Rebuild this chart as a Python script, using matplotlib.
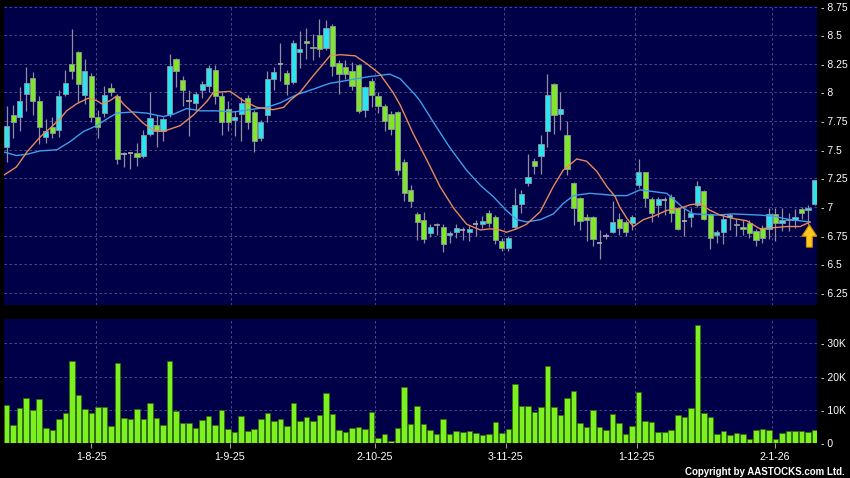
import matplotlib
matplotlib.use("Agg")
import matplotlib.pyplot as plt
from matplotlib.patches import Polygon
import numpy as np

plt.rcParams['font.family'] = ['Liberation Sans', 'DejaVu Sans']

# ---------------- data ----------------
opens = [7.52, 7.80, 7.79, 7.99, 8.13, 7.93, 7.61, 7.70, 7.67, 7.99,
         8.25, 8.35, 7.98, 8.14, 7.79, 7.82, 8.04, 7.97, 7.46, 7.47,
         7.47, 7.45, 7.64, 7.72, 7.66, 7.81, 8.29, 8.11, 7.93, 7.91,
         8.02, 8.06, 8.20, 7.97, 7.86, 7.76, 7.81, 7.95, 7.83, 7.60,
         7.80, 8.12, 8.25, 8.17, 8.09, 8.35, 8.45, 8.40, 8.50, 8.39,
         8.58, 8.26, 8.22, 8.19, 8.24, 7.85, 8.10, 7.97, 7.88, 7.81,
         7.83, 7.39, 7.15, 6.94, 6.89, 6.77, 6.85, 6.83, 6.76, 6.78,
         6.80, 6.78, 6.85, 6.85, 6.95, 6.91, 6.70, 6.64, 6.83, 7.03,
         7.21, 7.40, 7.45, 7.66, 8.07, 7.81, 7.63, 7.21, 7.08, 6.91,
         6.91, 6.69, 6.75, 6.78, 6.90, 6.87, 6.86, 7.19, 7.31, 7.07,
         7.02, 7.06, 7.09, 6.99, 6.88, 6.91, 7.02, 7.14, 6.94, 6.76,
         6.78, 6.91, 6.85, 6.83, 6.86, 6.79, 6.82, 6.81, 6.94, 6.86,
         6.89, 6.89, 6.98, 6.97, 7.03]
highs = [7.88, 7.89, 8.05, 8.22, 8.18, 7.97, 7.77, 7.79, 8.02, 8.20,
         8.55, 8.36, 8.29, 8.17, 7.85, 8.06, 8.08, 7.99, 7.48, 7.48,
         7.56, 7.67, 8.00, 7.80, 7.79, 8.34, 8.30, 8.14, 8.02, 8.00,
         8.10, 8.24, 8.24, 8.00, 7.93, 7.84, 7.96, 7.98, 7.85, 7.76,
         8.19, 8.22, 8.43, 8.20, 8.46, 8.54, 8.56, 8.51, 8.64, 8.63,
         8.60, 8.28, 8.28, 8.27, 8.25, 8.06, 8.13, 8.00, 7.90, 7.84,
         7.84, 7.42, 7.19, 6.96, 6.96, 6.85, 6.86, 6.85, 6.79, 6.85,
         6.83, 6.84, 6.89, 6.92, 6.97, 6.93, 6.73, 6.75, 7.17, 7.15,
         7.46, 7.43, 7.63, 8.16, 8.08, 8.00, 7.75, 7.22, 7.09, 6.94,
         6.92, 6.80, 6.77, 7.05, 6.95, 6.89, 6.93, 7.42, 7.31, 7.09,
         7.09, 7.09, 7.11, 7.00, 7.00, 6.99, 7.23, 7.15, 6.95, 6.80,
         6.94, 6.95, 6.90, 6.89, 6.89, 6.81, 6.84, 6.99, 6.99, 6.99,
         6.95, 6.98, 7.00, 7.02, 7.24]
lows = [7.39, 7.60, 7.66, 7.84, 7.80, 7.55, 7.56, 7.60, 7.61, 7.97,
        8.12, 7.92, 7.90, 7.74, 7.60, 7.79, 7.97, 7.38, 7.35, 7.33,
        7.36, 7.43, 7.62, 7.52, 7.58, 7.79, 8.05, 7.88, 7.62, 7.85,
        7.95, 8.00, 7.90, 7.63, 7.66, 7.62, 7.58, 7.68, 7.48, 7.58,
        7.74, 8.02, 8.10, 7.98, 8.07, 8.21, 8.29, 8.28, 8.31, 8.37,
        8.14, 7.99, 8.12, 8.02, 7.82, 7.79, 7.87, 7.82, 7.66, 7.63,
        7.28, 7.05, 7.00, 6.71, 6.69, 6.74, 6.76, 6.61, 6.69, 6.73,
        6.71, 6.70, 6.75, 6.82, 6.83, 6.68, 6.62, 6.62, 6.81, 6.95,
        7.18, 7.29, 7.29, 7.52, 7.64, 7.67, 7.28, 6.84, 6.80, 6.70,
        6.66, 6.55, 6.72, 6.77, 6.76, 6.75, 6.80, 7.17, 7.00, 6.87,
        6.91, 6.93, 6.87, 6.80, 6.75, 6.83, 7.00, 6.89, 6.63, 6.69,
        6.68, 6.80, 6.75, 6.76, 6.73, 6.66, 6.69, 6.72, 6.70, 6.79,
        6.79, 6.82, 6.90, 6.84, 7.02]
closes = [7.71, 7.74, 7.93, 8.08, 7.93, 7.70, 7.66, 7.65, 7.97, 8.08,
          8.19, 8.07, 8.19, 7.79, 7.70, 7.98, 8.00, 7.42, 7.46, 7.47,
          7.44, 7.63, 7.78, 7.66, 7.77, 8.23, 8.19, 8.02, 7.93, 7.99,
          8.07, 8.21, 7.97, 7.74, 7.74, 7.79, 7.91, 7.74, 7.58, 7.74,
          8.12, 8.18, 8.25, 8.07, 8.43, 8.38, 8.43, 8.39, 8.38, 8.56,
          8.23, 8.16, 8.16, 8.06, 7.84, 8.05, 7.98, 7.88, 7.75, 7.68,
          7.32, 7.12, 7.05, 6.87, 6.72, 6.83, 6.84, 6.68, 6.77, 6.82,
          6.80, 6.81, 6.85, 6.88, 6.86, 6.71, 6.64, 6.73, 7.02, 7.11,
          7.26, 7.36, 7.55, 7.98, 7.80, 7.86, 7.33, 6.99, 6.88, 6.89,
          6.72, 6.69, 6.75, 6.87, 6.82, 6.78, 6.91, 7.31, 7.08, 6.95,
          7.07, 7.06, 6.95, 6.81, 6.88, 6.95, 7.18, 6.90, 6.73, 6.78,
          6.90, 6.93, 6.84, 6.81, 6.77, 6.71, 6.73, 6.94, 6.86, 6.89,
          6.90, 6.91, 6.95, 6.99, 7.24]
volumes_k = [11.5, 5.5, 10.7, 13.5, 10.0, 13.2, 4.7, 4.0, 7.3, 9.0,
             24.8, 14.5, 10.3, 9.2, 11.0, 11.0, 5.2, 24.2, 7.5, 7.2,
             10.2, 7.2, 12.2, 7.5, 5.4, 24.8, 9.8, 6.2, 6.2, 4.5,
             7.0, 8.2, 5.4, 10.0, 4.2, 3.5, 8.3, 3.8, 4.4, 7.4,
             9.0, 6.6, 7.4, 5.2, 12.2, 6.8, 7.8, 6.8, 8.4, 15.0,
             8.8, 4.0, 3.5, 4.7, 5.0, 4.3, 9.4, 1.5, 2.7, 0.8,
             4.5, 16.8, 5.8, 11.2, 5.8, 4.0, 2.7, 7.4, 2.7, 3.8,
             3.5, 3.8, 3.0, 2.5, 2.8, 6.3, 3.2, 4.2, 17.8, 11.2,
             11.2, 9.5, 10.8, 23.3, 11.0, 8.5, 13.5, 15.8, 6.2, 5.0,
             10.0, 4.8, 4.0, 8.8, 6.0, 2.7, 5.2, 15.5, 6.7, 6.4,
             3.4, 3.5, 4.0, 8.5, 7.8, 10.7, 35.5, 9.0, 7.8, 2.8,
             3.7, 2.4, 3.2, 2.7, 1.4, 4.0, 4.3, 4.0, 1.2, 3.2,
             3.8, 3.6, 3.6, 3.5, 4.0]

ma_short_pos = [-0.4, 1.5, 3.1, 5.1, 6.7, 8.2, 9.2, 10.7, 12.5, 13.8,
                14.6, 15.9, 16.9, 17.9, 19.4, 21.0, 22.5, 24.0, 26.6, 28.6,
                30.7, 31.7, 34.3, 36.3, 38.4, 40.9, 42.5, 43.5, 45.0, 47.1,
                48.6, 49.6, 51.2, 53.5, 55.3, 57.3, 59.3, 60.4, 62.4, 64.5,
                66.5, 68.6, 70.6, 72.7, 74.2, 75.7, 76.7, 78.3, 79.8, 81.9,
                83.9, 85.4, 87.5, 89.0, 90.6, 92.1, 93.4, 94.1, 95.2, 96.2,
                97.7, 99.3, 101.3, 103.4, 104.9, 106.4, 108.0, 109.5, 111.5, 113.6,
                115.6, 117.7, 119.7, 121.8, 123.3]
ma_short_val = [7.28, 7.35, 7.48, 7.61, 7.69, 7.77, 7.84, 7.90, 7.95, 7.93,
                7.90, 7.93, 7.97, 7.90, 7.82, 7.73, 7.67, 7.66, 7.71, 7.80,
                7.92, 8.00, 8.01, 7.93, 7.87, 7.85, 7.87, 7.93, 8.00, 8.15,
                8.25, 8.32, 8.33, 8.32, 8.25, 8.16, 8.00, 7.89, 7.64, 7.41,
                7.18, 6.99, 6.85, 6.80, 6.81, 6.80, 6.78, 6.81, 6.85, 6.96,
                7.18, 7.32, 7.42, 7.40, 7.31, 7.18, 7.09, 7.00, 6.90, 6.83,
                6.89, 6.92, 6.97, 6.99, 7.02, 7.03, 6.97, 6.93, 6.90, 6.88,
                6.81, 6.82, 6.83, 6.83, 6.87]
ma_long_pos = [-0.4, 1.5, 3.1, 5.1, 7.7, 9.7, 11.8, 13.8, 15.4, 16.9,
               19.4, 21.5, 24.0, 25.6, 27.6, 29.7, 32.0, 34.8, 37.3, 39.9,
               42.0, 44.5, 47.1, 49.6, 51.7, 53.7, 55.8, 58.8, 60.4, 62.7,
               63.4, 65.5, 68.0, 70.6, 72.7, 74.7, 76.7, 78.3, 79.8, 81.9,
               83.9, 85.4, 87.0, 89.5, 91.6, 93.4, 95.2, 97.2, 101.3, 103.9,
               105.4, 109.0, 111.5, 115.6, 117.7, 120.2, 123.3]
ma_long_val = [7.48, 7.45, 7.46, 7.49, 7.50, 7.57, 7.66, 7.71, 7.77, 7.82,
               7.83, 7.82, 7.79, 7.81, 7.86, 7.84, 7.84, 7.83, 7.85, 7.87,
               7.91, 7.98, 8.03, 8.08, 8.10, 8.12, 8.14, 8.16, 8.12, 7.98,
               7.93, 7.74, 7.52, 7.32, 7.19, 7.09, 6.97, 6.89, 6.87, 6.89,
               6.94, 7.03, 7.10, 7.12, 7.11, 7.10, 7.10, 7.15, 7.12, 6.99,
               6.94, 6.93, 6.94, 6.93, 6.92, 6.89, 6.87]

date_labels = ['1-8-25', '1-9-25', '2-10-25', '3-11-25', '1-12-25', '2-1-26']
date_tick_pos = [13.0, 34.2, 56.5, 76.6, 96.7, 117.9]
date_grid_pos = [13.7, 34.5, 56.5, 76.4, 96.4, 117.4]
price_ticks = [6.25, 6.5, 6.75, 7.0, 7.25, 7.5, 7.75, 8.0, 8.25, 8.5, 8.75]
vol_ticks_k = [0, 10, 20, 30]

# ---------------- drawing ----------------
W, H = 850, 478
BG = '#000048'
UP = '#2CE4F0'
DN = '#80E62A'
EDGE = '#8c96a0'
GRID = dict(color='#555590', lw=0.6, ls=(0, (3, 3)))

fig = plt.figure(figsize=(W / 100, H / 100), dpi=100, facecolor='black')
ax = fig.add_axes([4 / W, 1 - 305 / H, 813 / W, 299 / H], facecolor=BG)
axv = fig.add_axes([4 / W, 1 - 443.3 / H, 813 / W, 124.3 / H], facecolor=BG)

o = np.array(opens); h = np.array(highs); l = np.array(lows); c = np.array(closes)
n = len(c)
idx = np.arange(n)
up = c > o
dn = c < o
eq = c == o
bw = 0.8

ax.vlines(idx, l, h, color='#8f8f9f', lw=0.9, zorder=3)
ax.bar(idx[up], (c - o)[up], bottom=o[up], width=bw, color=UP,
       edgecolor=EDGE, linewidth=0.6, zorder=4)
ax.bar(idx[dn], (o - c)[dn], bottom=c[dn], width=bw, color=DN,
       edgecolor=EDGE, linewidth=0.6, zorder=4)
ax.hlines(c[eq], idx[eq] - bw / 2, idx[eq] + bw / 2, color='#a8a8a8', lw=1.3, zorder=4)

ax.plot(ma_long_pos, ma_long_val, color='#3E9EEA', lw=1.0, zorder=5)
ax.plot(ma_short_pos, ma_short_val, color='#E8895A', lw=1.0, zorder=6)

# yellow arrow under the latest bar, pointing at the short average
xa = idx[-1] - 0.8
ytip = ma_short_val[-1] - 0.025
hw, sw, hl, tl = 1.15, 0.45, 0.10, 0.195
arrow = Polygon([(xa, ytip), (xa + hw, ytip - hl), (xa + sw, ytip - hl),
                 (xa + sw, ytip - tl), (xa - sw, ytip - tl), (xa - sw, ytip - hl),
                 (xa - hw, ytip - hl)], closed=True, facecolor='#FFC81E',
                edgecolor='#C98A00', lw=0.8, zorder=7)
ax.add_patch(arrow)

xlim = (-0.41, 124.37)
ax.set_xlim(*xlim)
ax.set_ylim(6.145, 8.755)
ax.set_xticks([])
ax.yaxis.tick_right()
ax.set_yticks(price_ticks)
ax.set_yticklabels(['- ' + ('%g' % t) for t in price_ticks])
ax.tick_params(axis='y', length=0, pad=3, labelcolor='white', labelsize=7.5)
ax.grid(axis='y', **GRID)
for g in date_grid_pos:
    ax.axvline(g, zorder=1, **GRID)
    axv.axvline(g, zorder=1, **GRID)

vol = np.array(volumes_k) * 1000
axv.bar(idx, vol, width=0.85, color='#7DF020', edgecolor='#2F6A0C', linewidth=0.5, zorder=3)
axv.set_xlim(*xlim)
axv.set_ylim(0, 37300)
axv.yaxis.tick_right()
axv.set_yticks([v * 1000 for v in vol_ticks_k])
axv.set_yticklabels(['- ' + ('%dK' % v if v else '0') for v in vol_ticks_k])
axv.tick_params(axis='y', length=0, pad=3, labelcolor='white', labelsize=7.5)
axv.grid(axis='y', **GRID)
axv.set_xticks(date_tick_pos)
axv.set_xticklabels(date_labels)
axv.tick_params(axis='x', length=3.5, width=0.8, color='#9a9aaa', labelcolor='white',
                labelsize=7.7, pad=3)

for a in (ax, axv):
    for s in a.spines.values():
        s.set_visible(False)

fig.text(845 / W, 1 - 472 / H, 'Copyright by AASTOCKS.com Ltd.', color='white',
         fontsize=7, fontweight='bold', ha='right', va='center')

fig.savefig('out.png', dpi=100, facecolor='black')
